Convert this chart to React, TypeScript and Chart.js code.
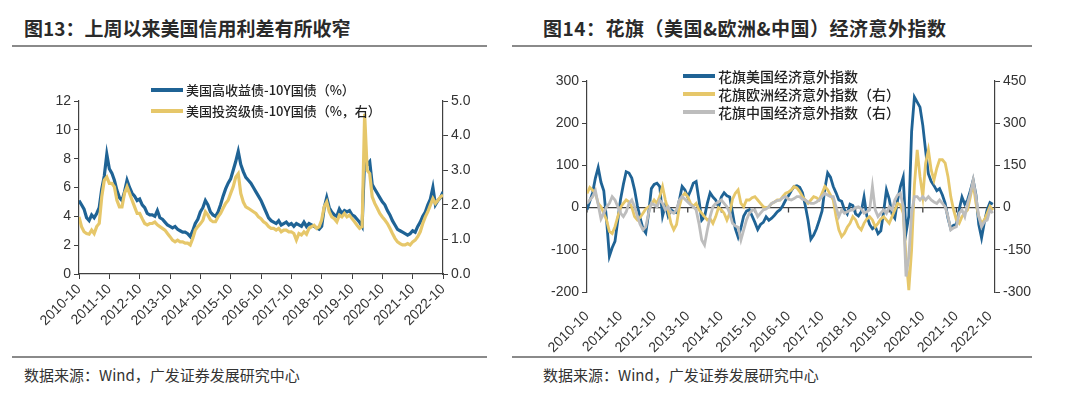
import React, { useEffect, useRef } from "react";
import { Chart, registerables } from "chart.js";
Chart.register(...registerables);

// ---------- data ----------
const tickLabels = [
  "2010-10", "2011-10", "2012-10", "2013-10", "2014-10", "2015-10", "2016-10",
  "2017-10", "2018-10", "2019-10", "2020-10", "2021-10", "2022-10",
];

// Fig 13: monthly, 2010-10 .. 2022-10
const hySpread = [
  5.1, 4.8, 4.5, 3.9, 3.7, 4.1, 3.9, 4.2, 4.6, 5.9, 6.8, 8.3, 7.3, 7.0, 6.5, 5.8, 5.3, 5.1, 5.7, 6.5,
  6.0, 5.6, 5.4, 5.1, 5.2, 4.8, 4.6, 4.2, 4.1, 4.1, 4.0, 4.4, 3.9, 3.8, 3.6, 3.4, 3.3, 3.2, 3.3, 3.1,
  3.0, 2.9, 2.9, 2.8, 2.6, 3.0, 3.5, 3.8, 4.3, 4.6, 5.1, 4.8, 4.3, 4.1, 4.0, 4.3, 4.8, 5.4, 5.9, 6.3,
  6.6, 7.2, 7.8, 8.5, 7.6, 7.1, 6.7, 6.5, 6.3, 6.0, 5.7, 5.4, 5.1, 4.7, 4.3, 3.9, 3.7, 3.6, 3.5, 3.7,
  3.4, 3.5, 3.6, 3.4, 3.5, 3.3, 3.5, 3.4, 3.3, 3.6, 3.3, 3.5, 3.4, 3.3, 3.2, 3.1, 3.3, 4.6, 5.3, 4.6,
  4.3, 4.1, 4.0, 4.5, 4.2, 4.4, 4.3, 4.4, 4.1, 4.0, 3.8, 3.6, 3.3, 8.1, 7.6, 7.8, 6.2, 5.9, 5.6, 5.3,
  5.0, 4.8, 4.4, 4.1, 3.7, 3.4, 3.1, 3.0, 2.9, 2.8, 2.7, 2.8, 3.0, 2.9, 3.3, 3.6, 4.0, 4.3, 4.8, 5.2,
  6.0, 4.8, 5.1, 5.3, 5.7,
];
const igSpread = [
  1.65, 1.37, 1.22, 1.17, 1.15, 1.27, 1.17, 1.37, 1.46, 2.23, 2.71, 2.8, 2.62, 2.62, 2.52, 2.13, 1.94, 1.94, 2.33, 2.52,
  2.33, 2.13, 1.94, 1.75, 1.75, 1.6, 1.46, 1.42, 1.46, 1.46, 1.5, 1.42, 1.37, 1.32, 1.27, 1.17, 1.08, 0.98, 0.93, 0.98,
  0.93, 0.93, 0.89, 0.89, 0.84, 1.03, 1.27, 1.37, 1.45, 1.55, 1.8, 1.7, 1.56, 1.51, 1.51, 1.65, 1.75, 1.9, 2.04, 2.13,
  2.33, 2.52, 2.8, 2.9, 2.33, 2.08, 1.94, 1.9, 1.85, 1.8, 1.75, 1.65, 1.6, 1.51, 1.46, 1.37, 1.32, 1.32, 1.27, 1.32,
  1.22, 1.27, 1.27, 1.22, 1.22, 1.17, 0.98, 1.17, 1.13, 1.22, 1.15, 1.32, 1.37, 1.41, 1.32, 1.37, 1.56, 1.94, 2.08, 1.8,
  1.65, 1.6, 1.51, 1.7, 1.65, 1.75, 1.65, 1.7, 1.6, 1.51, 1.41, 1.32, 1.37, 4.63, 3.0, 2.9, 2.23, 2.04, 1.9, 1.75,
  1.65, 1.56, 1.46, 1.32, 1.17, 1.03, 0.93, 0.88, 0.84, 0.84, 0.88, 0.84, 0.93, 0.98, 1.08, 1.22, 1.46, 1.65, 1.8, 1.99,
  2.18, 2.04, 2.13, 2.23, 2.28,
];

// Fig 14: monthly, 2010-10 .. 2022-11
const usSurprise = [
  -5, 15, 35, 70, 95, 60, 40, -30, -115, -95, -80, -30, 20, 55, 85, 82, 70, 42, 5, -25,
  -50, -60, -15, 45, 55, 58, 50, -20, 5, -20, -5, -10, -12, 18, 50, 42, 25, 40, 58, 62,
  18, -30, -22, 10, 35, 25, 18, 2, 25, 35, 28, 25, -12, -50, -70, -48, -20, -8, -5, -20,
  -35, -52, -40, -35, -22, -30, -25, -18, -10, -5, 5, 18, 28, 40, 50, 52, 48, 35, 5, -30,
  -75, -65, -50, -30, -8, 45, 82, 72, 50, 35, 18, 15, -5, -15, 8, 5, -15, -20, -10, 25,
  -20, -40, -50, -45, -62, -55, -10, 42, 20, -15, -25, 18, 50, 72, -60, -20, 180, 262, 250, 238,
  195, 135, 80, 62, 52, 40, 45, 30, 10, -25, -50, -42, -40, -5, 25, 8, 18, 40, 65, 30,
  -40, -72, -35, -5, 12, 8,
];
const euSurprise = [
  50, 72, 62, 50, 15, 3, -20, -45, -85, -92, -68, -32, 2, 15, 27, 20, 2, -32, -44, -35,
  -20, -5, 3, 10, 27, 15, 40, 75, 27, -10, -56, -79, -60, 3, 40, 51, 39, 15, 5, 15,
  -8, -20, -32, -44, -40, -56, -32, 0, -8, -20, -44, -20, 30, 51, 63, 15, 3, 27, 27, 35,
  39, 27, 15, 3, 0, 3, 15, 20, 27, 27, 40, 51, 55, 63, 75, 70, 57, 39, 27, 15,
  27, 39, 35, 27, 51, 75, 63, 45, 27, -32, -79, -103, -91, -70, -56, -32, -44, -68, -79, -56,
  -40, -32, -44, -68, -56, -40, -32, -44, -56, -32, -8, 15, 10, -20, -174, -293, -150, 80, 205, 110,
  39, 158, 205, 134, 98, 140, 170, 170, 158, 110, 39, -8, -44, -56, -32, -20, -8, 39, 86, 15,
  -30, -56, -44, -20, 4, -10,
];
const cnSurprise = [
  15, 27, 39, 60, 10, -40, -20, 3, 15, 39, 27, 3, -20, -32, -15, 15, 27, 3, -30, -60,
  -79, -68, -20, 15, 10, 3, 27, 15, -8, 3, -15, -20, -8, 27, 39, 30, 20, 10, 3, -8,
  -56, -115, -133, -80, -32, 3, 15, 20, 27, 15, 3, -20, -56, -65, -70, -115, -79, -44, -20, -10,
  -8, -32, -20, -8, -5, 3, 15, 20, 25, 27, 35, 39, 30, 27, 32, 39, 39, 30, 27, 20,
  15, 15, 20, 27, 40, 51, 45, 39, 39, 3, -32, -8, -20, -15, -10, -8, 0, 3, -5, -20,
  -15, -8, 75, -8, -32, -20, -8, -20, 3, -8, 27, 45, 51, 3, -245, -174, -20, 39, 39, 27,
  39, 27, 39, 27, 20, 15, 27, 15, 3, -32, -79, -72, -68, -20, -8, -32, 15, 50, 98, 39,
  -32, -68, -50, -44, -8, -20,
];

// ---------- style ----------
const BLUE = "#1f6395";
const GOLD = "#e6c76a";
const GREY = "#bdbdbd";
const AXIS = "#404040";
const TEXT = "#333333";
const FONT = "'Liberation Sans', Arial, sans-serif";
const CJK = "'Noto Sans CJK SC', 'Noto Sans', sans-serif";

const toPoints = (arr: number[]) => arr.map((y, x) => ({ x, y }));
const yearTicks = (scale: any) => {
  scale.ticks = tickLabels.map((_, i) => ({ value: i * 12 }));
};
const tickFont = { family: FONT, size: 14 };

const yAxis = (pos: "left" | "right", min: number, max: number, step: number, width: number, fmt?: (v: number) => string) => ({
  type: "linear" as const,
  position: pos,
  min,
  max,
  ticks: {
    stepSize: step,
    color: TEXT,
    font: tickFont,
    padding: 3,
    callback: (v: any) => (fmt ? fmt(Number(v)) : String(v)),
  },
  grid: { display: true, drawOnChartArea: false, drawTicks: true, tickLength: 5, color: AXIS, lineWidth: 1 },
  border: { display: true, color: AXIS, width: 1.2 },
  afterFit: (s: any) => {
    s.width = width;
  },
});

const zeroAxisPlugin = {
  id: "zeroAxis",
  beforeDatasetsDraw(chart: any) {
    const { ctx, chartArea, scales } = chart;
    const y0 = scales.y.getPixelForValue(0);
    ctx.save();
    ctx.strokeStyle = AXIS;
    ctx.lineWidth = 1.3;
    ctx.beginPath();
    ctx.moveTo(chartArea.left, y0);
    ctx.lineTo(chartArea.right, y0);
    tickLabels.forEach((_, i) => {
      const x = scales.x.getPixelForValue(i * 12);
      ctx.moveTo(x, y0);
      ctx.lineTo(x, y0 + 5);
    });
    ctx.stroke();
    ctx.restore();
  },
};

function LeftChart() {
  const ref = useRef<HTMLCanvasElement>(null);
  useEffect(() => {
    const chart = new Chart(ref.current!, {
      type: "line",
      data: {
        datasets: [
          {
            label: "美国高收益债-10Y国债（%）",
            data: toPoints(hySpread),
            yAxisID: "y",
            borderColor: BLUE,
            borderWidth: 3.2,
            pointRadius: 0,
            tension: 0,
            order: 2,
          },
          {
            label: "美国投资级债-10Y国债（%，右）",
            data: toPoints(igSpread),
            yAxisID: "y1",
            borderColor: GOLD,
            borderWidth: 3.2,
            pointRadius: 0,
            tension: 0,
            order: 1,
          },
        ],
      },
      options: {
        animation: false,
        responsive: false,
        maintainAspectRatio: false,
        layout: { padding: { top: 16, left: 0, right: 0, bottom: 0 } },
        plugins: { legend: { display: false }, tooltip: { enabled: false } },
        scales: {
          x: {
            type: "linear",
            min: 0,
            max: 144,
            afterBuildTicks: yearTicks,
            ticks: {
              color: TEXT,
              font: tickFont,
              autoSkip: false,
              minRotation: 45,
              maxRotation: 45,
              padding: 2,
              callback: (v: any) => tickLabels[Math.round(Number(v) / 12)],
            },
            grid: { display: true, drawOnChartArea: false, drawTicks: true, tickLength: 5, color: AXIS },
            border: { display: true, color: AXIS, width: 1.2 },
            afterFit: (s: any) => {
              s.height = 81;
            },
          },
          y: yAxis("left", 0, 12, 2, 59),
          y1: yAxis("right", 0, 5, 0.5, 57, (v) => v.toFixed(1)),
        },
      },
    } as any);
    return () => chart.destroy();
  }, []);
  return <canvas ref={ref} width={480} height={270} style={{ position: "absolute", left: 20, top: 85, width: 480, height: 270 }} />;
}

function RightChart() {
  const ref = useRef<HTMLCanvasElement>(null);
  useEffect(() => {
    const chart = new Chart(ref.current!, {
      type: "line",
      data: {
        datasets: [
          {
            label: "花旗美国经济意外指数",
            data: toPoints(usSurprise),
            yAxisID: "y",
            borderColor: BLUE,
            borderWidth: 2.8,
            pointRadius: 0,
            tension: 0,
            order: 3,
          },
          {
            label: "花旗欧洲经济意外指数（右）",
            data: toPoints(euSurprise),
            yAxisID: "y1",
            borderColor: GOLD,
            borderWidth: 2.8,
            pointRadius: 0,
            tension: 0,
            order: 2,
          },
          {
            label: "花旗中国经济意外指数（右）",
            data: toPoints(cnSurprise),
            yAxisID: "y1",
            borderColor: GREY,
            borderWidth: 2.8,
            pointRadius: 0,
            tension: 0,
            order: 1,
          },
        ],
      },
      options: {
        animation: false,
        responsive: false,
        maintainAspectRatio: false,
        layout: { padding: { top: 16, left: 0, right: 0, bottom: 0 } },
        plugins: { legend: { display: false }, tooltip: { enabled: false } },
        scales: {
          x: {
            type: "linear",
            min: 0,
            max: 145.8,
            afterBuildTicks: yearTicks,
            ticks: {
              color: TEXT,
              font: tickFont,
              autoSkip: false,
              minRotation: 45,
              maxRotation: 45,
              padding: 8,
              callback: (v: any) => tickLabels[Math.round(Number(v) / 12)],
            },
            grid: { display: false },
            border: { display: false },
            afterFit: (s: any) => {
              s.height = 63;
            },
          },
          y: yAxis("left", -200, 300, 100, 47),
          y1: yAxis("right", -300, 450, 150, 45),
        },
      },
      plugins: [zeroAxisPlugin],
    } as any);
    return () => chart.destroy();
  }, []);
  return <canvas ref={ref} width={500} height={290} style={{ position: "absolute", left: 540, top: 65, width: 500, height: 290 }} />;
}

function LegendItem({ x, y, color, text, size }: { x: number; y: number; color: string; text: string; size: number }) {
  return (
    <div style={{ position: "absolute", left: x, top: y - 10, height: 20, display: "flex", alignItems: "center", whiteSpace: "nowrap" }}>
      <div style={{ width: 32, height: 4, background: color, marginRight: 3 }} />
      <span style={{ fontFamily: CJK, fontSize: size, color: "#222", fontWeight: 500, lineHeight: "20px" }}>{text}</span>
    </div>
  );
}

const titleStyle: React.CSSProperties = {
  position: "absolute",
  top: 16,
  fontFamily: CJK,
  fontWeight: 700,
  fontSize: 19,
  lineHeight: "24px",
  color: "#2a2a2a",
  whiteSpace: "nowrap",
};
const sourceStyle: React.CSSProperties = {
  position: "absolute",
  top: 364,
  fontFamily: CJK,
  fontSize: 15,
  lineHeight: "22px",
  color: "#333",
  whiteSpace: "nowrap",
};
const rule = (left: number, width: number, top: number, h: number): React.CSSProperties => ({
  position: "absolute",
  left,
  width,
  top,
  height: h,
  background: "#8a8a8a",
});

export default function App() {
  return (
    <div style={{ position: "fixed", left: 0, top: 0, width: 1080, height: 399, background: "#fff", overflow: "hidden" }}>
      <div style={{ ...titleStyle, left: 24 }}>图13：上周以来美国信用利差有所收窄</div>
      <div style={{ ...titleStyle, left: 543, letterSpacing: 0.5 }}>图14：花旗（美国&amp;欧洲&amp;中国）经济意外指数</div>
      <div style={rule(12, 475, 45, 2)} />
      <div style={rule(512, 520, 45, 2)} />

      <LeftChart />
      <RightChart />

      <LegendItem x={151} y={90} color={BLUE} text="美国高收益债-10Y国债（%）" size={13} />
      <LegendItem x={151} y={111} color={GOLD} text="美国投资级债-10Y国债（%，右）" size={13} />

      <LegendItem x={683} y={76} color={BLUE} text="花旗美国经济意外指数" size={14} />
      <LegendItem x={683} y={94} color={GOLD} text="花旗欧洲经济意外指数（右）" size={14} />
      <LegendItem x={683} y={112} color={GREY} text="花旗中国经济意外指数（右）" size={14} />

      <div style={rule(12, 475, 356, 1.5)} />
      <div style={rule(512, 520, 356, 1.5)} />
      <div style={{ ...sourceStyle, left: 24 }}>数据来源：Wind，广发证券发展研究中心</div>
      <div style={{ ...sourceStyle, left: 543 }}>数据来源：Wind，广发证券发展研究中心</div>
    </div>
  );
}
